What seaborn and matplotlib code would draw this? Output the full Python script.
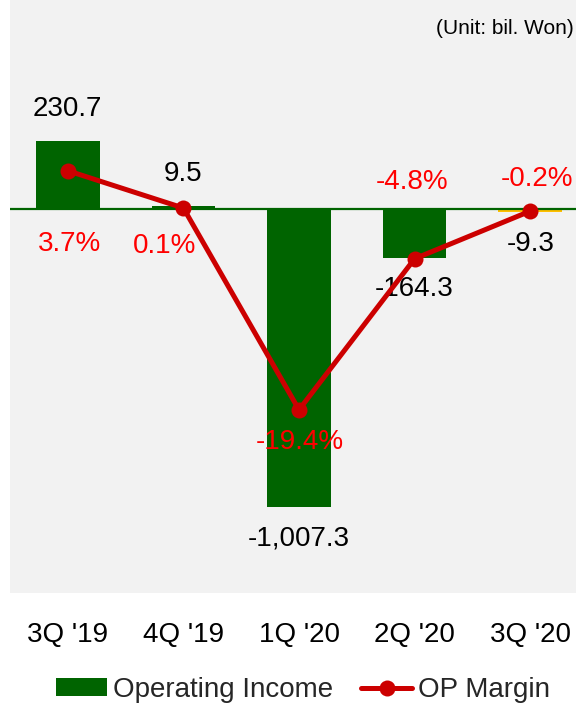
import numpy as np
import pandas as pd
import matplotlib
matplotlib.use("Agg")
import matplotlib.pyplot as plt
import matplotlib.font_manager as fm
from matplotlib.patches import Patch
from matplotlib.lines import Line2D
import seaborn as sns

# ---- data ----
quarters = ["3Q '19", "4Q '19", "1Q '20", "2Q '20", "3Q '20"]
operating_income = [230.7, 9.5, -1007.3, -164.3, -9.3]
op_margin = [3.7, 0.1, -19.4, -4.8, -0.2]
bar_colors = ["#006400", "#006400", "#006400", "#006400", "#FFC000"]

sns.set_theme(style="white")
names = {f.name for f in fm.fontManager.ttflist}
narrow = "Liberation Sans Narrow" in names
family = "Liberation Sans Narrow" if narrow else "Liberation Sans"
plt.rcParams["font.family"] = [family, "DejaVu Sans"]
FS = 22 if narrow else 20

DPI = 100
PX = 72.0 / DPI  # points per pixel
fig = plt.figure(figsize=(5.76, 7.04), dpi=DPI)
fig.patch.set_facecolor("white")
ax = fig.add_axes([10 / 576, 1 - 593 / 704, (588 - 10) / 576, 593 / 704])
ax.set_facecolor("#F2F2F2")

df = pd.DataFrame({"quarter": quarters, "income": operating_income, "margin": op_margin})

sns.barplot(data=df, x="quarter", y="income", hue="quarter", palette=bar_colors,
            legend=False, width=0.55, saturation=1, ax=ax, linewidth=0)
ax.axhline(0, color="#006400", lw=1.6, zorder=2)

ax2 = ax.twinx()
sns.lineplot(x=np.arange(len(quarters)), y=op_margin, ax=ax2, color="#CC0000",
             lw=5 * PX, marker="o", markersize=16 * PX, markeredgewidth=0,
             zorder=5)

ax.set_xlim(-0.5, len(quarters) - 0.5)
ax2.set_xlim(-0.5, len(quarters) - 0.5)
ax.set_ylim(-1299.5, 707)
ax2.set_ylim(-37.1, 20.2)

for a in (ax, ax2):
    for s in a.spines.values():
        s.set_visible(False)
    a.set_yticks([])
    a.set_ylabel("")
ax.set_xlabel("")
ax.tick_params(axis="x", length=0, pad=21, labelsize=FS, colors="black")

# bar value labels
for i, v in enumerate(operating_income):
    off = 23 if v >= 0 else -23
    ax.annotate(f"{v:,.1f}", (i, v), xytext=(0, off), textcoords="offset points",
                ha="center", va="center", fontsize=FS, color="black")

# margin labels (offsets in pixels: dx, dy upward)
margin_offsets = [(2, -73), (-19, -38), (1, -32), (-3, 77), (7, 32)]
for i, (m, (dx, dy)) in enumerate(zip(op_margin, margin_offsets)):
    ax2.annotate(f"{m:.1f}%", (i, m), xytext=(dx * PX, dy * PX), textcoords="offset points",
                 ha="center", va="center", fontsize=FS, color="#FF0000", zorder=6)

fig.text(574 / 576, 1 - 28 / 704, "(Unit: bil. Won)", ha="right", va="center",
         fontsize=15, color="black")

handles = [Patch(facecolor="#006400", edgecolor="none", label="Operating Income"),
           Line2D([0], [0], color="#CC0000", lw=5 * PX, marker="o", markersize=16 * PX,
                  markeredgewidth=0, label="OP Margin")]
fig.legend(handles=handles, loc="center", bbox_to_anchor=(303 / 576, 1 - 690 / 704),
           ncol=2, frameon=False, fontsize=FS, handlelength=1.85, handleheight=0.6,
           handletextpad=0.2, columnspacing=1.0, borderaxespad=0)

fig.savefig("out.png", dpi=DPI, facecolor="white")
